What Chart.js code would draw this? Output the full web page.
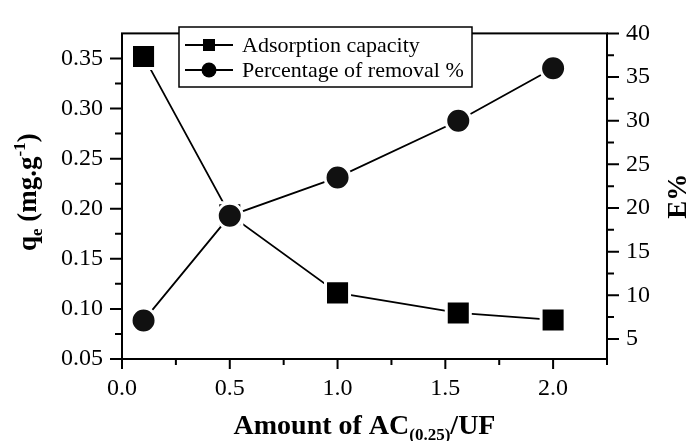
<!DOCTYPE html>
<html>
<head>
<meta charset="utf-8">
<script src="https://cdn.jsdelivr.net/npm/chart.js@4.4.0/dist/chart.umd.min.js"></script>
<style>
  html, body { margin: 0; padding: 0; background: #fff; }
</style>
</head>
<body>
<canvas id="adsChart" width="688" height="441"></canvas>
<script>
// values
const amountAC = [0.1, 0.5, 1.0, 1.56, 2.0];
const adsorptionCapacity = [0.352, 0.194, 0.116, 0.096, 0.089];
const percentRemoval = [7.1, 19.1, 23.5, 30.0, 36.0];
const seriesLabels = ['Adsorption capacity', 'Percentage of removal %'];

// axis ticks
const xTicks = [0.0, 0.5, 1.0, 1.5, 2.0];
const xMinorTicks = [0.25, 0.75, 1.25, 1.75, 2.25];
const qTicks = [0.05, 0.10, 0.15, 0.20, 0.25, 0.30, 0.35];
const qMinorTicks = [0.075, 0.125, 0.175, 0.225, 0.275, 0.325];
const eTicks = [5, 10, 15, 20, 25, 30, 35, 40];
const eMinorTicks = [7.5, 12.5, 17.5, 22.5, 27.5, 32.5, 37.5];

const serif = "'Liberation Serif', 'Times New Roman', serif";
Chart.defaults.font.family = serif;
Chart.defaults.color = '#000';

// draws text made of pieces (for sub/superscripts), centred on x,y
function drawRich(ctx, parts, x, y, rot) {
    ctx.save();
    ctx.translate(x, y);
    ctx.rotate(rot || 0);
    ctx.textBaseline = 'alphabetic';
    ctx.textAlign = 'left';
    let total = 0;
    parts.forEach(p => {
        ctx.font = 'bold ' + p.size + 'px ' + serif;
        p.w = ctx.measureText(p.text).width;
        total += p.w;
    });
    let cx = -total / 2;
    parts.forEach(p => {
        ctx.font = 'bold ' + p.size + 'px ' + serif;
        ctx.fillText(p.text, cx, 9 + (p.dy || 0));
        cx += p.w;
    });
    ctx.restore();
}

const decorations = {
    id: 'decorations',
    afterDraw(chart) {
        const ctx = chart.ctx;
        const a = chart.chartArea;
        const sx = chart.scales.x, sq = chart.scales.q, se = chart.scales.e;
        ctx.save();
        ctx.strokeStyle = '#000';
        ctx.fillStyle = '#000';

        // frame
        ctx.lineWidth = 2;
        ctx.strokeRect(a.left, a.top, a.right - a.left, a.bottom - a.top);

        // ticks
        ctx.lineWidth = 2;
        ctx.beginPath();
        xTicks.forEach(v => { const p = sx.getPixelForValue(v); ctx.moveTo(p, a.bottom); ctx.lineTo(p, a.bottom + 10); });
        xMinorTicks.forEach(v => { const p = sx.getPixelForValue(v); ctx.moveTo(p, a.bottom); ctx.lineTo(p, a.bottom + 6); });
        qTicks.forEach(v => { const p = sq.getPixelForValue(v); ctx.moveTo(a.left, p); ctx.lineTo(a.left - 12, p); });
        qMinorTicks.forEach(v => { const p = sq.getPixelForValue(v); ctx.moveTo(a.left, p); ctx.lineTo(a.left - 7, p); });
        eTicks.forEach(v => { const p = se.getPixelForValue(v); ctx.moveTo(a.right, p); ctx.lineTo(a.right + 12, p); });
        eMinorTicks.forEach(v => { const p = se.getPixelForValue(v); ctx.moveTo(a.right, p); ctx.lineTo(a.right + 7, p); });
        ctx.stroke();

        // axis titles
        const midY = (a.top + a.bottom) / 2;
        drawRich(ctx, [
            {text: 'Amount of AC', size: 28},
            {text: '(0.25)', size: 17, dy: 6},
            {text: '/UF', size: 28}
        ], (a.left + a.right) / 2, 425, 0);
        drawRich(ctx, [
            {text: 'q', size: 27},
            {text: 'e', size: 17, dy: 6},
            {text: ' (mg.g', size: 27},
            {text: '-1', size: 17, dy: -11},
            {text: ')', size: 27}
        ], 27, midY - 4, -Math.PI / 2);
        drawRich(ctx, [{text: 'E%', size: 27}], 677, midY, -Math.PI / 2);

        // legend
        const lx = 179, ly = 27, lw = 293, lh = 60;
        ctx.fillStyle = '#fff';
        ctx.fillRect(lx, ly, lw, lh);
        ctx.lineWidth = 1.5;
        ctx.strokeRect(lx, ly, lw, lh);
        ctx.font = '22px ' + serif;
        ctx.textBaseline = 'middle';
        ctx.textAlign = 'left';
        seriesLabels.forEach((label, i) => {
            const y = ly + 18 + i * 25;
            ctx.strokeStyle = '#000';
            ctx.lineWidth = 1.8;
            ctx.beginPath();
            ctx.moveTo(lx + 6, y);
            ctx.lineTo(lx + 54, y);
            ctx.stroke();
            ctx.fillStyle = '#000';
            ctx.beginPath();
            if (i === 0) {
                ctx.rect(lx + 24, y - 6, 12, 12);
            } else {
                ctx.arc(lx + 30, y, 7.5, 0, Math.PI * 2);
            }
            ctx.fill();
            ctx.fillText(label, lx + 63, y + 1);
        });
        ctx.restore();
    }
};

const ctx = document.getElementById('adsChart').getContext('2d');
new Chart(ctx, {
    type: 'line',
    data: {
        datasets: [{
            label: seriesLabels[0],
            data: amountAC.map((x, i) => ({x: x, y: adsorptionCapacity[i]})),
            yAxisID: 'q',
            borderColor: '#000',
            borderWidth: 1.8,
            pointStyle: 'rect',
            pointRadius: 17,
            pointBackgroundColor: '#000',
            pointBorderColor: '#fff',
            pointBorderWidth: 3,
            order: 1
        }, {
            label: seriesLabels[1],
            data: amountAC.map((x, i) => ({x: x, y: percentRemoval[i]})),
            yAxisID: 'e',
            borderColor: '#000',
            borderWidth: 1.8,
            pointStyle: 'circle',
            pointRadius: 12.5,
            pointBackgroundColor: '#111',
            pointBorderColor: '#fff',
            pointBorderWidth: 3,
            order: 0
        }]
    },
    options: {
        responsive: false,
        animation: false,
        events: [],
        layout: { padding: { top: 21, left: 0, right: 0, bottom: 0 } },
        plugins: {
            legend: { display: false },
            tooltip: { enabled: false }
        },
        scales: {
            x: {
                type: 'linear',
                position: 'bottom',
                min: 0,
                max: 2.25,
                afterBuildTicks: s => { s.ticks = xTicks.map(v => ({value: v})); },
                afterFit: s => { s.height = 82; },
                grid: { display: false, drawTicks: false },
                border: { display: false },
                ticks: { font: { size: 24 }, padding: 15, maxRotation: 0, autoSkip: false,
                         callback: v => v.toFixed(1) }
            },
            q: {
                type: 'linear',
                position: 'left',
                min: 0.05,
                max: 0.375,
                afterBuildTicks: s => { s.ticks = qTicks.map(v => ({value: v})); },
                afterFit: s => { s.width = 122; },
                grid: { display: false, drawTicks: false },
                border: { display: false },
                ticks: { font: { size: 24 }, padding: 19, autoSkip: false,
                         callback: v => v.toFixed(2) }
            },
            e: {
                type: 'linear',
                position: 'right',
                min: 2.7,
                max: 40,
                afterBuildTicks: s => { s.ticks = eTicks.map(v => ({value: v})); },
                afterFit: s => { s.width = 81; },
                grid: { display: false, drawTicks: false },
                border: { display: false },
                ticks: { font: { size: 24 }, padding: 19, autoSkip: false,
                         callback: v => String(v) }
            }
        }
    },
    plugins: [decorations]
});
</script>
</body>
</html>
